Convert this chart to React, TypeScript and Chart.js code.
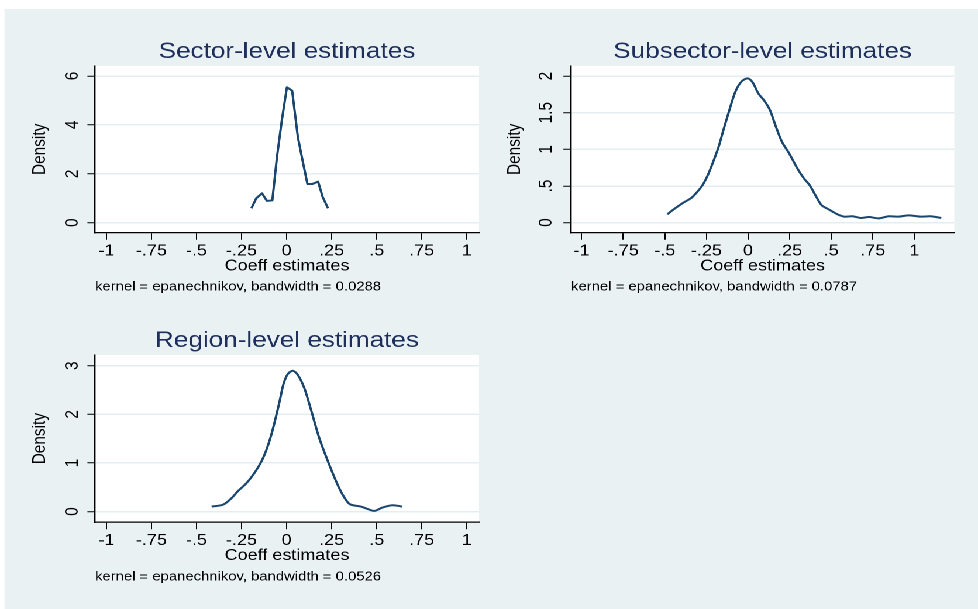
import React, { useEffect, useRef } from 'react';
import { Chart, registerables } from 'chart.js';

Chart.register(...registerables);

// ---------------- data ----------------
const xTicks = [-1, -0.75, -0.5, -0.25, 0, 0.25, 0.5, 0.75, 1];
const xTitle = 'Coeff estimates';
const yTitle = 'Density';

const sectorTitle = 'Sector-level estimates';
const sectorNote = 'kernel = epanechnikov, bandwidth = 0.0288';
const sectorYTicks = [0, 2, 4, 6];
const sectorX = [-0.195, -0.168, -0.136, -0.109, -0.079, -0.053, -0.026, 0.002, 0.031, 0.063, 0.09, 0.116, 0.142, 0.175, 0.201, 0.23];
const sectorY = [0.59, 1.0, 1.2, 0.89, 0.91, 2.7, 4.2, 5.54, 5.4, 3.49, 2.5, 1.58, 1.58, 1.68, 1.04, 0.59];

const subsectorTitle = 'Subsector-level estimates';
const subsectorNote = 'kernel = epanechnikov, bandwidth = 0.0787';
const subsectorYTicks = [0, 0.5, 1, 1.5, 2];
const subsectorX = [-0.485, -0.441, -0.391, -0.341, -0.311, -0.275, -0.242, -0.212, -0.178, -0.148, -0.112, -0.076, -0.04, -0.002, 0.028, 0.062, 0.098, 0.132, 0.168, 0.204, 0.248, 0.297, 0.337, 0.371, 0.411, 0.443, 0.487, 0.537, 0.577, 0.627, 0.677, 0.727, 0.786, 0.846, 0.906, 0.966, 1.036, 1.096, 1.162];
const subsectorY = [0.114, 0.191, 0.269, 0.337, 0.405, 0.506, 0.647, 0.815, 1.025, 1.262, 1.535, 1.786, 1.923, 1.968, 1.913, 1.763, 1.663, 1.535, 1.308, 1.103, 0.943, 0.738, 0.601, 0.51, 0.351, 0.237, 0.178, 0.114, 0.082, 0.087, 0.064, 0.077, 0.059, 0.087, 0.082, 0.1, 0.082, 0.087, 0.064];

const regionTitle = 'Region-level estimates';
const regionNote = 'kernel = epanechnikov, bandwidth = 0.0526';
const regionYTicks = [0, 1, 2, 3];
const regionX = [-0.416, -0.352, -0.306, -0.269, -0.223, -0.177, -0.14, -0.112, -0.085, -0.061, -0.039, -0.017, 0.007, 0.035, 0.063, 0.099, 0.136, 0.182, 0.234, 0.284, 0.32, 0.352, 0.413, 0.449, 0.486, 0.532, 0.587, 0.643];
const regionY = [0.103, 0.144, 0.274, 0.425, 0.582, 0.801, 1.027, 1.267, 1.575, 1.918, 2.26, 2.623, 2.829, 2.897, 2.808, 2.534, 2.089, 1.507, 0.993, 0.548, 0.295, 0.151, 0.103, 0.055, 0.014, 0.082, 0.13, 0.103];

// ---------------- style / layout ----------------
const PAGE_W = 978;
const PAGE_H = 609;
const BASE_W = 836;
const K = PAGE_W / BASE_W; // horizontal stretch of the reference
const FONT = '"Liberation Sans", Arial, Helvetica, sans-serif';
const BG = '#E9F1F3';
const GRID = '#E4EDF0';
const LINE = '#1A476F';
const TITLE_COLOR = '#1E2F5C';
const TITLE_SIZE = 22.3;
const LABEL_SIZE = 15.4;
const NOTE_SIZE = 12.7;
const X_TICK_LEN = 7;
const Y_TICK_LEN = 6.5;

const fmt = (v: number) => {
  const s = String(Math.round(v * 1000) / 1000);
  return s.replace(/^(-?)0\./, '$1.');
};

const measure = (text: string, size: number) => {
  const c = document.createElement('canvas').getContext('2d')!;
  c.font = `${size}px ${FONT}`;
  return c.measureText(text).width;
};

type PanelSpec = {
  title: string;
  note: string;
  xs: number[];
  ys: number[];
  yTicks: number[];
  xMin: number;
  xMax: number;
  yMin: number;
  yMax: number;
  plot: { left: number; right: number; top: number; bottom: number };
  yTitleX: number;
  yLabelX: number;
  tension: number;
};

const panels: PanelSpec[] = [
  {
    title: sectorTitle, note: sectorNote, xs: sectorX, ys: sectorY, yTicks: sectorYTicks,
    xMin: -1.063, xMax: 1.068, yMin: -0.41, yMax: 6.41,
    plot: { left: 95, right: 479, top: 66, bottom: 232.7 }, yTitleX: 40, yLabelX: 72.7, tension: 0,
  },
  {
    title: subsectorTitle, note: subsectorNote, xs: subsectorX, ys: subsectorY, yTicks: subsectorYTicks,
    xMin: -1.064, xMax: 1.24, yMin: -0.137, yMax: 2.137,
    plot: { left: 571, right: 954.3, top: 66, bottom: 232.7 }, yTitleX: 515, yLabelX: 546.7, tension: 0.3,
  },
  {
    title: regionTitle, note: regionNote, xs: regionX, ys: regionY, yTicks: regionYTicks,
    xMin: -1.063, xMax: 1.068, yMin: -0.22, yMax: 3.22,
    plot: { left: 95, right: 479, top: 355, bottom: 522.3 }, yTitleX: 40, yLabelX: 72.7, tension: 0.3,
  },
];

const plotBg = {
  id: 'plotBg',
  beforeDraw(chart: any) {
    const { ctx, chartArea } = chart;
    ctx.save();
    ctx.fillStyle = '#ffffff';
    ctx.fillRect(chartArea.left, chartArea.top, chartArea.right - chartArea.left, chartArea.bottom - chartArea.top);
    ctx.restore();
  },
};

function Panel({ spec }: { spec: PanelSpec }) {
  const ref = useRef<HTMLCanvasElement | null>(null);
  useEffect(() => {
    if (!ref.current) return;
    const lhT = TITLE_SIZE * 1.2;
    const lhL = LABEL_SIZE * 1.2;
    const lhN = NOTE_SIZE * 1.2;
    const left = spec.plot.left / K;
    const right = spec.plot.right / K;
    const top = spec.plot.top;
    const bottom = spec.plot.bottom;

    // y axis
    const axisLeft = spec.yTitleX / K - lhL / 2;
    const yAxisWidth = left - axisLeft;
    const widest = Math.max(...spec.yTicks.map((v) => measure(fmt(v), LABEL_SIZE)));
    const yPad = left - spec.yLabelX / K - Y_TICK_LEN - widest / 2;

    // x axis
    const xLabelOffset = 18.3;
    const xTitleOffset = 33.5;
    const noteOffset = 54.5;
    const xPad = xLabelOffset - X_TICK_LEN - lhL / 2;
    const xAxisHeight = xTitleOffset + lhL / 2;
    const notePadTop = noteOffset - xAxisHeight - lhN / 2;

    // title
    const titleOffset = 14;
    const padTop = top - titleOffset - lhT / 2;
    const titlePadBottom = titleOffset - lhT / 2;

    const padBottom = PAGE_H - (bottom + xAxisHeight + notePadTop + lhN);

    const chart = new Chart(ref.current, {
      type: 'line',
      data: {
        datasets: [
          {
            data: spec.xs.map((x, i) => ({ x, y: spec.ys[i] })),
            borderColor: LINE,
            borderWidth: 2,
            pointRadius: 0,
            pointHoverRadius: 0,
            fill: false,
            tension: spec.tension,
            borderJoinStyle: 'round',
          } as any,
        ],
      },
      options: {
        responsive: false,
        animation: false,
        devicePixelRatio: 2,
        events: [],
        layout: { padding: { left: axisLeft, right: BASE_W - right, top: padTop, bottom: padBottom } },
        plugins: {
          legend: { display: false },
          tooltip: { enabled: false },
          title: {
            display: true,
            text: spec.title,
            color: TITLE_COLOR,
            font: { family: FONT, size: TITLE_SIZE, weight: 'normal' },
            padding: { top: 0, bottom: titlePadBottom },
            fullSize: false,
          },
          subtitle: {
            display: true,
            text: spec.note,
            position: 'bottom',
            align: 'start',
            color: '#000',
            font: { family: FONT, size: NOTE_SIZE, weight: 'normal' },
            padding: { top: notePadTop, bottom: 0 },
            fullSize: false,
          },
        },
        scales: {
          x: {
            type: 'linear',
            min: spec.xMin,
            max: spec.xMax,
            afterBuildTicks: (s: any) => {
              s.ticks = xTicks.map((v) => ({ value: v }));
            },
            afterFit: (s: any) => {
              s.height = xAxisHeight;
            },
            ticks: {
              callback: (v: any) => fmt(Number(v)),
              color: '#000',
              font: { family: FONT, size: LABEL_SIZE },
              padding: xPad,
              autoSkip: false,
              maxRotation: 0,
              minRotation: 0,
            },
            grid: {
              drawOnChartArea: false,
              drawTicks: true,
              tickLength: X_TICK_LEN,
              tickColor: '#000',
              tickWidth: 1,
            },
            border: { display: true, color: '#000', width: 1.2 },
            title: {
              display: true,
              text: xTitle,
              color: '#000',
              font: { family: FONT, size: LABEL_SIZE },
              padding: { top: 0, bottom: 0 },
            },
          },
          y: {
            type: 'linear',
            min: spec.yMin,
            max: spec.yMax,
            afterBuildTicks: (s: any) => {
              s.ticks = spec.yTicks.map((v) => ({ value: v }));
            },
            afterFit: (s: any) => {
              s.width = yAxisWidth;
            },
            ticks: {
              callback: (v: any) => fmt(Number(v)),
              color: '#000',
              font: { family: FONT, size: LABEL_SIZE },
              padding: yPad,
              autoSkip: false,
              minRotation: 90,
              maxRotation: 90,
              crossAlign: 'center',
            },
            grid: {
              color: GRID,
              lineWidth: 1.5,
              drawTicks: true,
              tickLength: Y_TICK_LEN,
              tickColor: '#000',
              tickWidth: 1,
            },
            border: { display: true, color: '#000', width: 1.2 },
            title: {
              display: true,
              text: yTitle,
              color: '#000',
              font: { family: FONT, size: LABEL_SIZE },
              padding: { top: 0, bottom: 0 },
            },
          },
        },
      } as any,
      plugins: [plotBg],
    });
    return () => chart.destroy();
  }, [spec]);
  return (
    <canvas
      ref={ref}
      width={BASE_W}
      height={PAGE_H}
      style={{ position: 'absolute', left: 0, top: 0, width: `${BASE_W}px`, height: `${PAGE_H}px` }}
    />
  );
}

export default function App() {
  useEffect(() => {
    document.body.style.overflow = 'hidden';
  }, []);
  return (
    <div
      style={{
        position: 'absolute',
        left: 0,
        top: 0,
        width: `${BASE_W}px`,
        height: `${PAGE_H}px`,
        background: '#ffffff',
        transform: `scaleX(${K})`,
        transformOrigin: '0 0',
        overflow: 'hidden',
      }}
    >
      <div
        style={{
          position: 'absolute',
          left: `${5 / K}px`,
          top: '9px',
          width: `${(PAGE_W - 5) / K}px`,
          height: `${PAGE_H - 9}px`,
          background: BG,
        }}
      />
      {panels.map((p) => (
        <Panel key={p.title} spec={p} />
      ))}
    </div>
  );
}
